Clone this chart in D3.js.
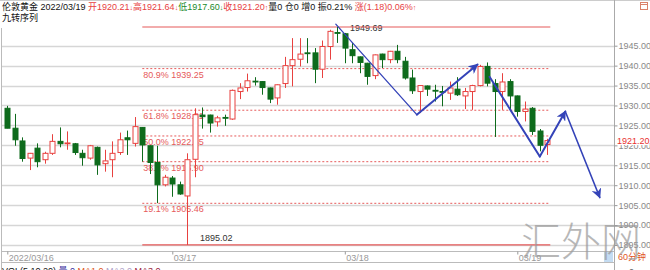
<!DOCTYPE html>
<html>
<head>
<meta charset="utf-8">
<script src="https://cdn.jsdelivr.net/npm/d3@7/dist/d3.min.js"></script>
<style>
  body { margin: 0; background: #fff; }
  svg { display: block; font-family: "Liberation Sans", Arial, "Noto Sans CJK SC", sans-serif; }
</style>
</head>
<body>
<div id="chart"></div>
<script>
// 60-minute bars, London gold, 2022/03/16 - 2022/03/19
const opens  = [1929.3,1924.3,1921.1,1916.8,1919.3,1916.4,1918.0,1921.0,1920.4,1920.4,
                1918.0,1916.8,1919.5,1915.4,1916.4,1918.2,1921.9,1920.5,1924.5,1919.9,
                1915.7,1910.1,1911.8,1910.1,1907.3,1916.5,1927.6,1927.6,1925.9,1927.0,
                1926.6,1933.5,1934.5,1936.1,1936.0,1934.4,1931.9,1935.5,1940.0,1941.6,
                1943.2,1943.2,1939.1,1944.8,1948.3,1948.0,1944.0,1942.2,1940.6,1937.5,
                1942.9,1941.5,1943.6,1941.1,1936.9,1933.5,1934.9,1933.8,1933.5,1933.1,
                1934.1,1932.4,1933.5,1935.0,1939.8,1935.5,1933.5,1936.0,1932.4,1928.5,
                1929.3,1923.6,1920.21];
const highs  = [1929.9,1927.9,1922.0,1918.1,1920.5,1918.4,1922.8,1924.5,1923.5,1920.6,
                1918.9,1920.1,1919.7,1918.9,1921.0,1923.2,1923.7,1927.1,1924.6,1920.0,
                1919.9,1912.6,1912.3,1910.9,1918.0,1929.3,1929.5,1927.7,1927.4,1927.7,
                1934.0,1935.6,1938.0,1937.1,1936.1,1934.5,1935.3,1942.2,1946.9,1946.9,
                1946.9,1944.4,1946.3,1949.0,1949.69,1948.2,1945.7,1942.3,1940.7,1942.8,
                1943.0,1943.7,1945.2,1942.2,1939.0,1935.0,1935.0,1935.2,1934.9,1936.0,
                1937.1,1934.4,1935.2,1940.2,1940.8,1936.6,1938.1,1936.6,1932.5,1931.0,
                1929.6,1924.1,1921.64];
const lows   = [1924.3,1919.9,1915.9,1913.8,1914.5,1915.4,1917.6,1919.5,1918.9,1917.6,
                1914.9,1916.4,1912.6,1913.4,1912.0,1917.6,1917.6,1919.7,1915.9,1912.8,
                1905.5,1909.7,1907.1,1907.6,1895.02,1912.0,1924.2,1923.2,1924.7,1924.9,
                1926.4,1931.6,1933.5,1935.0,1932.7,1930.6,1930.2,1934.4,1934.8,1939.8,
                1940.6,1935.6,1936.9,1941.5,1945.7,1940.6,1940.6,1938.1,1935.2,1936.6,
                1939.4,1940.6,1940.6,1936.5,1932.9,1928.1,1932.4,1931.0,1929.8,1931.4,
                1932.4,1929.1,1928.9,1934.8,1934.8,1922.1,1928.9,1928.9,1927.2,1926.0,
                1922.6,1918.5,1917.60];
const closes = [1924.3,1921.4,1916.7,1918.0,1915.9,1918.0,1921.0,1920.4,1920.6,1918.2,
                1916.9,1919.9,1915.1,1916.1,1918.0,1921.4,1921.4,1924.7,1920.1,1915.7,
                1910.1,1912.0,1910.3,1907.8,1916.4,1927.7,1927.2,1925.6,1926.9,1926.9,
                1933.8,1934.4,1936.2,1936.0,1934.5,1931.6,1935.2,1940.0,1941.5,1942.9,
                1943.1,1939.1,1944.8,1948.6,1948.2,1944.4,1942.5,1940.8,1937.3,1942.7,
                1941.5,1943.6,1941.5,1936.9,1933.7,1935.0,1934.1,1933.7,1933.4,1934.4,
                1932.7,1933.5,1935.0,1939.8,1935.6,1933.5,1935.9,1932.4,1928.5,1929.1,
                1923.5,1920.02,1921.20];

// time axis labels (bar index -> label)
const dateTickIdx = [0, 22, 45, 68];
const dateTickLabels = ["2022/03/16", "03/17", "03/18", "03/19"];

// price axis ticks
const priceTicks = [1945, 1940, 1935, 1930, 1925, 1920, 1915, 1910, 1905, 1900, 1895];

// fibonacci retracement drawn from the low to the high
const fibHigh = 1949.69;
const fibLow = 1895.02;
const fibLabels = ["80.9%", "61.8%", "50.0%", "38.2%", "19.1%"];
const fibPrices = [1939.25, 1928.81, 1922.35, 1915.90, 1905.46];
const fibFrom = 18.0, fibTo = 72.4;   // bar index span

// hand drawn arrows, points as [bar index, price]
const arrowA = [[43.8, 1950.4], [54.6, 1927.7], [62.7, 1940.3]];
const arrowB = [[64.3, 1937.2], [71.0, 1917.2], [74.4, 1928.5], [79.0, 1906.9]];

const lastPrice = 1921.20;

const W = 650, H = 270;
const axisX = 614.5;

const svg = d3.select("#chart").append("svg")
    .attr("width", W).attr("height", H);

const x = d3.scaleLinear().domain([0, 72]).range([7.3, 547.3]);
const y = d3.scaleLinear().domain([1895, 1945]).range([245, 45.7]);

const red = "#e8413f", green = "#0e6b1c", blue = "#3443b8", fibRed = "#e65a5a";

// gridlines
svg.append("g").selectAll("line")
    .data(priceTicks)
    .enter().append("line")
    .attr("x1", 2).attr("x2", axisX)
    .attr("y1", d => Math.round(y(d)) + 0.5).attr("y2", d => Math.round(y(d)) + 0.5)
    .attr("stroke", "#d6d6d6").attr("stroke-width", 1.3);

// frame lines
svg.append("line").attr("x1", 0).attr("x2", W).attr("y1", 0.5).attr("y2", 0.5).attr("stroke", "#ccc");
svg.append("line").attr("x1", 1.5).attr("x2", 1.5).attr("y1", 28).attr("y2", H).attr("stroke", "#bbb");
svg.append("line").attr("x1", axisX).attr("x2", axisX).attr("y1", 0).attr("y2", H).attr("stroke", "#aaa");
svg.append("line").attr("x1", 2).attr("x2", axisX).attr("y1", 251.5).attr("y2", 251.5).attr("stroke", "#bbb");
svg.append("line").attr("x1", 2).attr("x2", axisX).attr("y1", 262.5).attr("y2", 262.5).attr("stroke", "#bbb");

// fibonacci levels
const fib = svg.append("g");
fib.append("text")
    .attr("x", 350).attr("y", y(fibHigh) + 3.5)
    .attr("font-size", 9).attr("fill", "#333")
    .text(fibHigh.toFixed(2));
[fibHigh, fibLow].forEach(v => {
    fib.append("line")
        .attr("x1", x(fibFrom)).attr("x2", x(fibTo))
        .attr("y1", y(v)).attr("y2", y(v))
        .attr("stroke", fibRed).attr("stroke-width", 1.2);
});
fibPrices.forEach((v, i) => {
    fib.append("line")
        .attr("x1", x(fibFrom)).attr("x2", x(fibTo))
        .attr("y1", y(v)).attr("y2", y(v))
        .attr("stroke", fibRed).attr("stroke-dasharray", "2,2");
    fib.append("text")
        .attr("x", x(fibFrom) + 1)
        .attr("y", y(v) + 9)
        .attr("font-size", 9)
        .attr("fill", fibRed)
        .text(`${fibLabels[i]} ${v.toFixed(2)}`);
});
fib.append("text")
    .attr("x", 200).attr("y", y(fibLow) - 4)
    .attr("font-size", 9).attr("fill", "#333")
    .text(fibLow.toFixed(2));

// candles
const bars = d3.range(opens.length).map(i => ({
    i, o: opens[i], h: highs[i], l: lows[i], c: closes[i]
}));
const bw = 5;
const candles = svg.append("g").selectAll("g")
    .data(bars)
    .enter().append("g");

candles.append("line")
    .attr("x1", d => Math.round(x(d.i)) + 0.5).attr("x2", d => Math.round(x(d.i)) + 0.5)
    .attr("y1", d => y(d.h)).attr("y2", d => y(d.l))
    .attr("stroke", d => d.c >= d.o ? red : green);

candles.append("rect")
    .attr("x", d => Math.round(x(d.i)) - bw / 2 + 0.5)
    .attr("y", d => y(Math.max(d.o, d.c)))
    .attr("width", bw)
    .attr("height", d => Math.max(0.8, Math.abs(y(d.o) - y(d.c))))
    .attr("fill", d => d.c >= d.o ? "#fff" : green)
    .attr("stroke", d => d.c >= d.o ? red : green);

// arrows
const defs = svg.append("defs");
defs.append("marker")
    .attr("id", "arrowhead")
    .attr("viewBox", "0 0 10 10")
    .attr("refX", 9).attr("refY", 5)
    .attr("markerWidth", 10).attr("markerHeight", 10)
    .attr("markerUnits", "userSpaceOnUse")
    .attr("orient", "auto")
    .append("path")
    .attr("d", "M0,0L10,5L0,10L3,5Z")
    .attr("fill", blue);

const seg = (a, b, w, head) => {
    const l = svg.append("line")
        .attr("x1", x(a[0])).attr("y1", y(a[1]))
        .attr("x2", x(b[0])).attr("y2", y(b[1]))
        .attr("stroke", blue).attr("stroke-width", w)
        .attr("stroke-linecap", "round");
    if (head) l.attr("marker-end", "url(#arrowhead)");
};
seg(arrowA[0], arrowA[1], 1.3, false);
seg(arrowA[1], arrowA[2], 2, true);
seg(arrowB[0], arrowB[1], 2, false);
seg(arrowB[1], arrowB[2], 2, true);
seg(arrowB[2], arrowB[3], 1.6, true);

// right price axis
const yAxis = svg.append("g")
    .attr("transform", `translate(${axisX},0)`)
    .call(d3.axisRight(y).tickValues(priceTicks).tickFormat(d3.format(".2f")).tickSize(3).tickPadding(1));
yAxis.select(".domain").remove();
yAxis.selectAll("line").attr("stroke", "#999");
yAxis.selectAll("text").attr("fill", "#888").attr("font-size", 9).attr("font-family", null);

// last price tag
svg.append("rect")
    .attr("x", axisX + 1).attr("y", y(lastPrice) - 5.5)
    .attr("width", 34).attr("height", 10).attr("fill", "#fff");
svg.append("text")
    .attr("x", axisX + 2.5).attr("y", y(lastPrice) + 3.5)
    .attr("font-size", 9).attr("fill", "#e8312f")
    .text(lastPrice.toFixed(2));

// time axis
const xAxis = svg.append("g")
    .attr("transform", "translate(0,251.5)")
    .call(d3.axisBottom(x).tickValues(dateTickIdx).tickFormat((d, i) => dateTickLabels[i]).tickSize(3));
xAxis.select(".domain").remove();
xAxis.selectAll("line").attr("stroke", "#999");
xAxis.selectAll("text")
    .attr("text-anchor", "start")
    .attr("x", 1).attr("y", 3).attr("dy", "0.71em")
    .attr("fill", "#999").attr("font-size", 9).attr("font-family", null);

// period tag
svg.append("rect").attr("x", 604).attr("y", 252).attr("width", 9).attr("height", 10).attr("fill", "#c4dcf2");
svg.append("text").attr("x", 618).attr("y", 260).attr("font-size", 9).attr("fill", "#e0561e").text("60分钟");
svg.append("text").attr("x", 629).attr("y", 275).attr("font-size", 9).attr("fill", "#666").text("0");

// top-right icon
svg.append("rect").attr("x", 640.5).attr("y", 2.5).attr("width", 7).attr("height", 7)
    .attr("fill", "none").attr("stroke", "#d9826a");
svg.append("line").attr("x1", 640.5).attr("x2", 647.5).attr("y1", 4.5).attr("y2", 4.5).attr("stroke", "#d9826a");

// header
const hdr = svg.append("text").attr("x", 2).attr("y", 10).attr("font-size", 9);
const parts = [
    ["伦敦黄金 2022/03/19 ", "#111"],
    ["开1920.21", red], ["↓", red, 7],
    ["高1921.64", red], ["↓", red, 7],
    ["低1917.60", "#1a8a2a"], ["↓", "#1a8a2a", 7],
    ["收1921.20", red], ["↑", red, 7],
    ["量0  仓0  增0  振0.21%  ", "#111"],
    ["涨(1.18)0.06%", red], ["↑", red, 7]
];
parts.forEach(p => {
    const t = hdr.append("tspan").attr("fill", p[1]).text(p[0]);
    if (p[2]) t.attr("font-size", p[2]);
});
svg.append("text").attr("x", 2).attr("y", 21).attr("font-size", 9).attr("fill", "#111").text("九转序列");

// volume panel caption (cut at bottom)
const vol = svg.append("text").attr("x", 2).attr("y", 274).attr("font-size", 9);
[["VOL(5,10,20)  ", "#111"], ["量 0  ", "#3b2fa0"], ["MA1 0  ", "#e0561e"], ["MA2 0  ", "#b0a0c8"], ["MA3 0", "#9a1a40"]]
    .forEach(p => vol.append("tspan").attr("fill", p[1]).text(p[0]));

// watermark
svg.append("text")
    .attr("x", 521).attr("y", 256)
    .attr("font-size", 40)
    .attr("font-family", "'Noto Sans CJK SC', sans-serif")
    .attr("font-weight", 300)
    .attr("fill", "#9a9a9a").attr("opacity", 0.7)
    .text("汇外网");
</script>
</body>
</html>
